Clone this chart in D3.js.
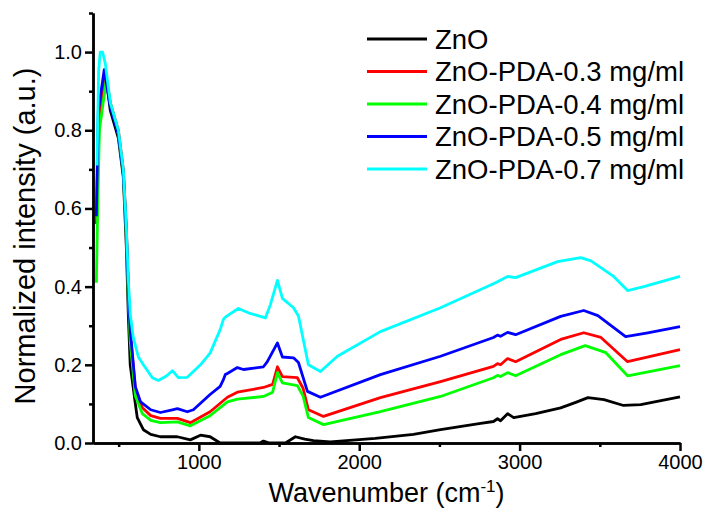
<!DOCTYPE html>
<html>
<head>
<meta charset="utf-8">
<script src="https://cdn.jsdelivr.net/npm/d3@7"></script>
<style>
  body { margin: 0; background: #fff; }
  text { font-family: "Liberation Sans", Arial, sans-serif; fill: #000; }
</style>
</head>
<body>
<div id="chart"></div>
<script>
// series names + colours
const seriesNames = ["ZnO", "ZnO-PDA-0.3 mg/ml", "ZnO-PDA-0.4 mg/ml", "ZnO-PDA-0.5 mg/ml", "ZnO-PDA-0.7 mg/ml"];
const seriesColors = ["#000000", "#ff0000", "#00ff00", "#0000ff", "#00ffff"];

// [wavenumber, normalized intensity]
const znO = [[367,0.65],[380,0.85],[417,0.95],[448,0.85],[498,0.78],[529,0.68],[548,0.5],[560,0.33],[572,0.2],
  [604,0.1],[616,0.065],[654,0.034],[700,0.022],[760,0.016],[866,0.016],[947,0.008],[1010,0.02],[1070,0.016],
  [1133,0.0],[1380,0.0],[1403,0.005],[1440,0.0],[1540,0.0],[1602,0.016],[1660,0.01],[1715,0.006],[1820,0.003],
  [2100,0.012],[2338,0.022],[2507,0.034],[2757,0.05],[2837,0.055],[2862,0.062],[2881,0.057],[2925,0.075],
  [2963,0.065],[3100,0.075],[3256,0.09],[3350,0.104],[3426,0.116],[3526,0.111],[3648,0.096],[3755,0.098],[4000,0.118]];
const pda03 = [[361,0.56],[373,0.80],[417,0.95],[448,0.87],[498,0.80],[529,0.70],[548,0.55],[560,0.40],[572,0.28],
  [604,0.14],[648,0.09],[700,0.07],[760,0.063],[866,0.063],[947,0.052],[1070,0.08],[1178,0.117],[1240,0.13],
  [1403,0.142],[1460,0.15],[1490,0.195],[1521,0.17],[1614,0.167],[1650,0.14],[1683,0.085],[1777,0.068],
  [2132,0.116],[2507,0.157],[2837,0.196],[2862,0.203],[2881,0.2],[2925,0.216],[2975,0.208],[3256,0.265],
  [3400,0.282],[3507,0.27],[3673,0.208],[4000,0.239]];
const pda04 = [[361,0.41],[367,0.55],[380,0.80],[423,0.93],[448,0.87],[498,0.79],[529,0.69],[548,0.53],[560,0.38],
  [572,0.26],[604,0.12],[648,0.075],[700,0.058],[760,0.052],[866,0.054],[947,0.044],[1070,0.07],[1178,0.105],
  [1240,0.112],[1403,0.119],[1460,0.13],[1490,0.18],[1521,0.154],[1614,0.147],[1650,0.12],[1683,0.065],
  [1777,0.047],[2132,0.08],[2507,0.119],[2837,0.167],[2862,0.173],[2881,0.17],[2925,0.18],[2975,0.172],
  [3256,0.226],[3409,0.249],[3538,0.231],[3673,0.172],[4000,0.198]];
const pda05 = [[361,0.58],[373,0.85],[410,0.955],[448,0.86],[498,0.79],[529,0.69],[548,0.54],[560,0.40],[572,0.29],
  [604,0.144],[635,0.106],[700,0.085],[760,0.078],[835,0.085],[866,0.088],[928,0.08],[966,0.085],[1070,0.124],
  [1133,0.145],[1153,0.162],[1165,0.175],[1178,0.178],[1240,0.193],[1278,0.188],[1403,0.195],[1427,0.208],
  [1490,0.256],[1521,0.22],[1590,0.218],[1621,0.206],[1677,0.132],[1758,0.117],[2132,0.175],[2507,0.222],
  [2837,0.27],[2862,0.276],[2881,0.273],[2925,0.283],[2975,0.277],[3256,0.324],[3400,0.339],[3488,0.326],
  [3661,0.272],[3799,0.282],[4000,0.298]];
const pda07 = [[365,0.71],[375,0.95],[385,1.0],[400,1.0],[417,0.97],[448,0.87],[498,0.80],[529,0.70],[548,0.55],
  [560,0.42],[572,0.33],[591,0.27],[623,0.22],[654,0.2],[710,0.167],[747,0.16],[800,0.172],[835,0.185],[872,0.167],
  [928,0.168],[1010,0.2],[1070,0.23],[1133,0.29],[1153,0.316],[1165,0.322],[1246,0.344],[1309,0.333],[1415,0.32],
  [1446,0.354],[1490,0.416],[1521,0.37],[1590,0.346],[1621,0.325],[1683,0.2],[1758,0.183],[1864,0.222],
  [2132,0.285],[2507,0.346],[2850,0.41],[2925,0.426],[2975,0.423],[3237,0.464],[3381,0.474],[3445,0.466],
  [3586,0.426],[3673,0.39],[3774,0.40],[4000,0.426]];
const seriesData = [znO, pda03, pda04, pda05, pda07];

const xMajor = [1000, 2000, 3000, 4000];
const xMinor = [500, 1500, 2500, 3500];
const yMajor = [0, 0.2, 0.4, 0.6, 0.8, 1.0];
const yMinor = [0.1, 0.3, 0.5, 0.7, 0.9, 1.1];

const width = 705, height = 513;
const margin = {top: 13, right: 25, bottom: 70, left: 93};

let svg = d3.select("#chart")
    .append("svg")
    .attr("width", width)
    .attr("height", height);

let x = d3.scaleLinear()
    .domain([340, 4000])
    .range([margin.left, width - margin.right]);

let y = d3.scaleLinear()
    .domain([0, 1.1])
    .range([height - margin.bottom, margin.top]);

let line = d3.line()
    .x(function(d) { return x(d[0]); })
    .y(function(d) { return y(d[1]); });

// spectra, drawn in legend order (last on top)
svg.append("g")
    .selectAll("path")
    .data(seriesData)
    .enter()
    .append("path")
    .attr("d", line)
    .attr("fill", "none")
    .attr("stroke", function(d, i) { return seriesColors[i]; })
    .attr("stroke-width", 2.8)
    .attr("stroke-linejoin", "round");

// axes
svg.append("g")
    .attr("transform", `translate(0, ${y(0)})`)
    .call(d3.axisBottom(x).tickValues(xMajor).tickSize(8).tickSizeOuter(0).tickPadding(4).tickFormat(d3.format("d")));
svg.append("g")
    .attr("transform", `translate(0, ${y(0)})`)
    .call(d3.axisBottom(x).tickValues(xMinor).tickSize(4).tickSizeOuter(0).tickFormat(""));

svg.append("g")
    .attr("transform", `translate(${x(340)}, 0)`)
    .call(d3.axisLeft(y).tickValues(yMajor).tickSize(8).tickSizeOuter(0).tickPadding(3).tickFormat(d3.format(".1f")));
svg.append("g")
    .attr("transform", `translate(${x(340)}, 0)`)
    .call(d3.axisLeft(y).tickValues(yMinor).tickSize(4).tickSizeOuter(0).tickFormat(""));

svg.selectAll(".domain, .tick line")
    .attr("stroke", "#000")
    .attr("stroke-width", 2.5);
svg.selectAll(".tick text")
    .style("font-size", "20px")
    .style("font-family", "'Liberation Sans', Arial, sans-serif");

// axis titles
let xTitle = svg.append("text")
    .attr("x", (x(340) + x(4000)) / 2)
    .attr("y", 502)
    .style("text-anchor", "middle")
    .style("font-size", "27px");
xTitle.append("tspan").text("Wavenumber (cm");
xTitle.append("tspan").attr("dy", -10).style("font-size", "17px").text("-1");
xTitle.append("tspan").attr("dy", 10).text(")");

svg.append("text")
    .attr("transform", `translate(35, 236) rotate(-90)`)
    .style("text-anchor", "middle")
    .style("font-size", "29px")
    .text("Normalized intensity (a.u.)");

// legend
let legend = svg.append("g")
    .selectAll("g")
    .data(seriesNames)
    .enter()
    .append("g")
    .attr("transform", function(d, i) { return `translate(367, ${39 + i * 32.5})`; });

legend.append("line")
    .attr("x1", 0).attr("x2", 60)
    .attr("stroke", function(d, i) { return seriesColors[i]; })
    .attr("stroke-width", 2.8);

legend.append("text")
    .attr("x", 68)
    .attr("y", 9.5)
    .style("font-size", "27.5px")
    .text(function(d) { return d; });
</script>
</body>
</html>
